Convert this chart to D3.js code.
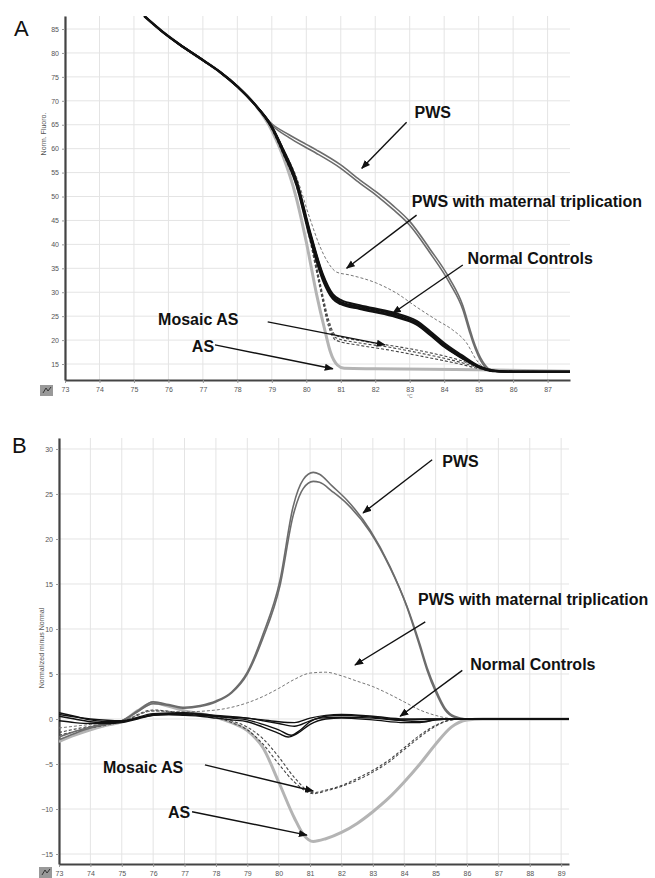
<!DOCTYPE html>
<html>
<head>
<meta charset="utf-8">
<script src="https://cdn.jsdelivr.net/npm/d3@7"></script>
<style>
  body { margin: 0; background: #fff; }
  text { font-family: "Liberation Sans", Arial, sans-serif; }
</style>
</head>
<body>
<div id="chart"></div>
<script>
// ---------- data: panel A (normalized fluorescence vs temperature) ----------
const ticksAx = d3.range(73, 88);
const ticksAy = d3.range(15, 90, 5);
const topA = [[75.3,87.7],[75.8,84.6],[76.3,81.9],[77,78.5],[77.5,76],[78,73],[78.5,69.3]];
const normalA = [
  [[79,64.5],[79.32,59.7],[79.72,52.8],[80.1,42.3],[80.48,33.2],[80.77,29.2],[81,28.0],[81.55,27.0],[82.5,25.5],[83.2,23.7],[83.6,21.4],[84,19.0],[84.5,16.6],[85,14.5],[85.4,13.6],[86,13.4],[87.7,13.4]],
  [[79,64.3],[79.32,59.3],[79.72,52.2],[80.1,41.5],[80.48,32.5],[80.77,28.6],[81,27.5],[81.55,26.5],[82.5,25.0],[83.2,23.2],[83.6,21.0],[84,18.6],[84.5,16.3],[85,14.3],[85.4,13.5],[86,13.4],[87.7,13.4]],
  [[79,64.7],[79.32,60.0],[79.72,53.3],[80.1,42.9],[80.48,33.8],[80.77,29.6],[81,28.4],[81.55,27.3],[82.5,25.8],[83.2,24.0],[83.6,21.8],[84,19.4],[84.5,16.9],[85,14.6],[85.4,13.7],[86,13.4],[87.7,13.4]],
  [[79,64.6],[79.32,59.9],[79.72,53.0],[80.1,42.6],[80.48,33.5],[80.77,29.0],[81,27.8],[81.55,26.7],[82.5,25.2],[83.2,23.4],[83.6,21.2],[84,18.8],[84.5,16.4],[85,14.4],[85.4,13.6],[86,13.4],[87.7,13.4]]
];
const pwsA = [
  [[79,65.2],[79.5,62.9],[80,60.9],[80.3,59.7],[81,56.6],[81.55,53.5],[82.04,50.9],[82.5,48.2],[83,44.8],[83.58,39.1],[84.16,32.8],[84.54,27.2],[84.74,22.4],[84.83,20.3],[85.12,15.5],[85.32,13.9],[85.6,13.4],[87.7,13.4]],
  [[79,64.9],[79.5,62.3],[80,60.2],[80.3,59.0],[81,55.9],[81.55,52.8],[82.04,50.2],[82.5,47.4],[83,44.0],[83.58,38.3],[84.16,31.9],[84.54,26.4],[84.74,21.6],[84.83,19.6],[85.12,15.0],[85.32,13.7],[85.6,13.4],[87.7,13.4]]
];
const tripA = [[79,64.8],[79.32,60.2],[79.72,54.0],[80.1,45.5],[80.4,39.5],[80.59,36.7],[80.88,34.2],[81.26,33.6],[82.04,31.9],[82.62,29.8],[83.2,26.9],[83.78,24.2],[84.25,22.1],[84.65,19.4],[84.94,15.8],[85.12,14.4],[85.4,13.6],[87.7,13.4]];
const mosaicA = [
  [[79,64.2],[79.32,59.2],[79.72,52.4],[80.1,41.6],[80.4,31.5],[80.65,23.5],[80.85,20.5],[81.55,19.4],[82.33,18.6],[83.29,17.3],[84.45,15.4],[85.03,14.2],[85.4,13.6],[87.7,13.4]],
  [[79,64.1],[79.32,59.0],[79.72,52.0],[80.1,41.0],[80.4,30.8],[80.65,22.8],[80.85,20.0],[81.55,18.9],[82.33,18.0],[83.29,16.7],[84.45,15.0],[85.03,14.0],[85.4,13.5],[87.7,13.4]],
  [[79,64.3],[79.32,59.4],[79.72,52.7],[80.1,42.0],[80.4,32.0],[80.65,24.2],[80.85,21.0],[81.55,19.9],[82.33,19.0],[83.29,17.8],[84.45,15.8],[85.03,14.4],[85.4,13.6],[87.7,13.4]]
];
const asA = [[79,63.8],[79.32,58.5],[79.7,50],[80.0,40.5],[80.3,29.5],[80.54,22],[80.7,17.5],[80.9,14.8],[81.1,14.1],[82,14.0],[85,13.8],[87.7,13.5]];

// ---------- data: panel B (difference plot) ----------
const ticksBx = d3.range(73, 90);
const ticksBy = d3.range(-15, 35, 5);
const pwsB = [
  [[73,-2.0],[73.5,-1.4],[74,-0.9],[74.5,-0.5],[75,-0.2],[75.5,0.9],[76,1.9],[76.5,1.6],[77,1.3],[77.5,1.5],[78,2.0],[78.5,3.0],[79,5.2],[79.5,9.4],[80.04,15.4],[80.46,23.6],[80.78,26.6],[81.1,27.4],[81.3,27.2],[81.7,25.9],[82.18,24.3],[82.91,21.0],[83.55,16.9],[84.09,12.4],[84.5,8.0],[84.73,5.4],[85,3.0],[85.3,1.0],[85.6,0.2],[86,0],[89.25,0]],
  [[73,-2.3],[73.5,-1.6],[74,-1.0],[74.5,-0.6],[75,-0.2],[75.5,0.8],[76,1.7],[76.5,1.5],[77,1.2],[77.5,1.4],[78,1.9],[78.5,2.9],[79,5.0],[79.5,9.0],[80.04,14.8],[80.46,22.6],[80.78,25.6],[81.1,26.4],[81.3,26.3],[81.7,25.3],[82.18,23.9],[82.91,20.8],[83.55,16.8],[84.09,12.5],[84.5,8.3],[84.73,5.7],[85,3.3],[85.3,1.2],[85.6,0.3],[86,0],[89.25,0]]
];
const asB = [[73,-2.5],[73.5,-1.8],[74,-1.2],[74.5,-0.7],[75,-0.3],[75.5,0.9],[76,1.8],[76.5,1.4],[77,0.9],[77.5,0.6],[78,0.2],[78.5,-0.4],[79,-1.3],[79.5,-3.2],[80,-7.0],[80.5,-11.0],[80.8,-12.9],[81.1,-13.6],[81.5,-13.3],[82,-12.6],[82.5,-11.6],[83,-10.3],[83.5,-8.8],[84,-7.0],[84.5,-5.0],[85,-2.8],[85.5,-0.9],[86,-0.1],[86.5,0],[89.25,0]];
const mosaicB = [
  [[73,-1.5],[74,-0.8],[75,-0.3],[76,0.9],[77,0.7],[78,0.3],[78.5,-0.2],[79,-0.9],[79.5,-2.2],[80,-4.2],[80.5,-6.5],[81.1,-8.2],[81.5,-7.9],[82,-7.4],[82.5,-6.6],[83,-5.7],[83.5,-4.6],[84,-3.2],[84.5,-1.8],[85,-0.7],[85.5,-0.1],[86,0],[89.25,0]],
  [[73,-1.8],[74,-1.0],[75,-0.3],[76,1.0],[77,0.6],[78,0.2],[78.5,-0.4],[79,-1.2],[79.5,-2.8],[80,-5.0],[80.5,-7.0],[81.1,-8.3],[81.5,-8.0],[82,-7.5],[82.5,-6.8],[83,-5.9],[83.5,-4.8],[84,-3.4],[84.5,-2.0],[85,-0.8],[85.5,-0.1],[86,0],[89.25,0]]
];
const tripB = [[73,-1.0],[74,-0.6],[75,-0.2],[76,0.9],[77,0.8],[78,1.0],[78.5,1.3],[79,1.8],[79.5,2.5],[80,3.4],[80.5,4.4],[81,5.1],[81.5,5.2],[82,4.8],[82.5,4.2],[83,3.6],[83.5,2.8],[84,1.9],[84.5,1.0],[85,0.4],[85.5,0.05],[86,0],[89.25,0]];
const normalB = [
  [[73,0.7],[73.5,0.3],[74,-0.1],[74.5,-0.3],[75,-0.3],[75.5,0.1],[76,0.5],[76.5,0.6],[77,0.6],[77.5,0.5],[78,0.3],[78.5,0.1],[79,-0.1],[79.5,-0.6],[80,-1.2],[80.4,-1.8],[80.7,-1.2],[81,-0.3],[81.3,0.1],[82,0.2],[83,0.1],[84,-0.2],[84.5,-0.3],[85,-0.1],[85.5,0],[89.25,0]],
  [[73,0.3],[73.5,0],[74,-0.3],[74.5,-0.4],[75,-0.3],[75.5,0.1],[76,0.4],[76.5,0.5],[77,0.5],[77.5,0.4],[78,0.3],[78.5,0.2],[79,0.1],[79.5,-0.2],[80,-0.5],[80.5,-0.8],[81,-0.2],[81.5,0.3],[82,0.4],[83,0.2],[84,-0.1],[85,0],[89.25,0]],
  [[73,-0.2],[73.5,-0.4],[74,-0.5],[74.5,-0.5],[75,-0.4],[75.5,0],[76,0.4],[76.5,0.5],[77,0.4],[77.5,0.3],[78,0.1],[78.5,-0.1],[79,-0.3],[79.5,-0.9],[80,-1.6],[80.3,-2.0],[80.6,-1.6],[81,-0.6],[81.5,0],[82,0.1],[83,-0.1],[84,-0.4],[84.5,-0.4],[85,-0.1],[85.5,0],[89.25,0]],
  [[73,0.5],[74,0],[75,-0.2],[76,0.6],[77,0.7],[78,0.4],[79,0.1],[79.5,-0.1],[80,-0.3],[80.5,-0.4],[81,0.1],[81.5,0.4],[82,0.5],[83,0.3],[84,0],[85,0],[89.25,0]]
];

// annotation labels: [text, textX, textY, arrowFromX, arrowFromY, arrowToX, arrowToY] in data units
const notesA = [
  ['PWS', 83.14, 66.4, 82.91, 65.5, 81.61, 55.9],
  ['PWS with maternal triplication', 83.06, 47.8, 83.2, 46.1, 81.17, 35.0],
  ['Normal Controls', 84.68, 35.9, 84.54, 35.7, 82.51, 25.6],
  ['Mosaic AS', 75.7, 23.1, 78.88, 23.8, 82.28, 19.0],
  ['AS', 76.68, 17.5, 77.35, 19.0, 80.77, 14.0]
];
const notesB = [
  ['PWS', 85.21, 28.0, 84.89, 28.8, 82.69, 22.9],
  ['PWS with maternal triplication', 84.44, 12.7, 84.67, 10.8, 82.43, 6.0],
  ['Normal Controls', 86.1, 5.4, 85.85, 5.4, 83.87, 0.3],
  ['Mosaic AS', 74.4, -6.0, 77.65, -5.1, 81.1, -8.0],
  ['AS', 76.47, -11.0, 77.24, -10.3, 80.9, -12.9]
];

const W = 655, H = 878;
const svg = d3.select('#chart').append('svg')
    .attr('width', W).attr('height', H)
    .style('background', '#fff');

const defs = svg.append('defs');
defs.append('marker')
    .attr('id', 'head')
    .attr('viewBox', '0 0 10 10')
    .attr('refX', 9).attr('refY', 5)
    .attr('markerWidth', 9).attr('markerHeight', 9)
    .attr('markerUnits', 'userSpaceOnUse')
    .attr('orient', 'auto')
  .append('path')
    .attr('d', 'M0,1 L10,5 L0,9 Z')
    .attr('fill', '#111');

function panel(cfg) {
  const x = d3.scaleLinear().domain(cfg.xDomain).range(cfg.xRange);
  const y = d3.scaleLinear().domain(cfg.yDomain).range(cfg.yRange);
  const g = svg.append('g');

  defs.append('clipPath').attr('id', cfg.id)
    .append('rect')
      .attr('x', cfg.xRange[0]).attr('y', cfg.yRange[1])
      .attr('width', cfg.xRange[1] - cfg.xRange[0])
      .attr('height', cfg.yRange[0] - cfg.yRange[1]);

  // grid
  g.append('g').selectAll('line').data(cfg.xTicks).join('line')
      .attr('x1', d => x(d)).attr('x2', d => x(d))
      .attr('y1', cfg.yRange[0]).attr('y2', cfg.yRange[1])
      .attr('stroke', '#e4e4e4').attr('stroke-width', 1);
  g.append('g').selectAll('line').data(cfg.yTicks).join('line')
      .attr('x1', cfg.xRange[0]).attr('x2', cfg.xRange[1])
      .attr('y1', d => y(d)).attr('y2', d => y(d))
      .attr('stroke', '#e4e4e4').attr('stroke-width', 1);

  // axes
  const ax = g.append('g')
      .attr('transform', `translate(0,${cfg.yRange[0]})`)
      .call(d3.axisBottom(x).tickValues(cfg.xTicks).tickSize(3).tickSizeOuter(0).tickPadding(4));
  const ay = g.append('g')
      .attr('transform', `translate(${cfg.xRange[0]},0)`)
      .call(d3.axisLeft(y).tickValues(cfg.yTicks).tickSize(3).tickSizeOuter(0).tickPadding(3));
  [ax, ay].forEach(a => {
    a.select('.domain').attr('stroke', '#444').attr('stroke-width', 2.2);
    a.selectAll('.tick line').attr('stroke', '#999');
    a.selectAll('.tick text').attr('fill', '#555').style('font-size', '7px');
  });

  const line = d3.line().x(d => x(d[0])).y(d => y(d[1])).curve(d3.curveMonotoneX);
  const plot = g.append('g').attr('clip-path', `url(#${cfg.id})`);
  cfg.series.forEach(s => {
    plot.append('g').selectAll('path').data(s.data).join('path')
        .attr('d', line)
        .attr('fill', 'none')
        .attr('stroke', s.color)
        .attr('stroke-width', s.width)
        .attr('stroke-dasharray', s.dash || null)
        .attr('stroke-linejoin', 'round');
  });

  // annotations
  const notes = g.append('g');
  notes.selectAll('text').data(cfg.notes).join('text')
      .attr('x', d => x(d[1])).attr('y', d => y(d[2]))
      .attr('fill', '#111')
      .style('font-size', '16px').style('font-weight', 'bold')
      .text(d => d[0]);
  notes.selectAll('line').data(cfg.notes).join('line')
      .attr('x1', d => x(d[3])).attr('y1', d => y(d[4]))
      .attr('x2', d => x(d[5])).attr('y2', d => y(d[6]))
      .attr('stroke', '#111').attr('stroke-width', 1.4)
      .attr('marker-end', 'url(#head)');

  // panel letter, axis title, toolbar icon
  g.append('text').attr('x', cfg.letterPos[0]).attr('y', cfg.letterPos[1])
      .style('font-size', '22px').attr('fill', '#111').text(cfg.letter);
  g.append('text')
      .attr('transform', `translate(${cfg.titlePos[0]},${cfg.titlePos[1]}) rotate(-90)`)
      .attr('text-anchor', 'middle').style('font-size', '7px').attr('fill', '#555')
      .text(cfg.title);
  g.append('rect').attr('x', cfg.iconPos[0]).attr('y', cfg.iconPos[1])
      .attr('width', 13).attr('height', 11).attr('fill', '#999');
  g.append('path')
      .attr('d', `M${cfg.iconPos[0] + 3},${cfg.iconPos[1] + 8} l3,-5 l2,3 l3,-4`)
      .attr('stroke', '#333').attr('fill', 'none').attr('stroke-width', 1);
  return {x, y, g};
}

const pA = panel({
  id: 'clipA', letter: 'A', letterPos: [14, 36], title: 'Norm. Fluoro.', titlePos: [46, 134],
  iconPos: [40, 385],
  xDomain: [73, 87.65], xRange: [65, 570],
  yDomain: [11.66, 87.72], yRange: [380, 16],
  xTicks: ticksAx, yTicks: ticksAy,
  series: [
    {data: [topA.concat(asA)], color: '#b4b4b4', width: 3},
    {data: mosaicA.map(d => topA.concat(d)), color: '#444', width: 1.1, dash: '3,2'},
    {data: [topA.concat(tripA)], color: '#777', width: 1, dash: '3,2'},
    {data: pwsA.map(d => topA.concat(d)), color: '#6c6c6c', width: 1.6},
    {data: normalA.map(d => topA.concat(d)), color: '#111', width: 2}
  ],
  notes: notesA
});
pA.g.append('text').attr('x', pA.x(83)).attr('y', 398)
    .attr('text-anchor', 'middle').style('font-size', '5px').attr('fill', '#777').text('°C');

panel({
  id: 'clipB', letter: 'B', letterPos: [12, 453], title: 'Normalized minus Normal', titlePos: [44, 648],
  iconPos: [39, 867],
  xDomain: [73, 89.25], xRange: [59, 569],
  yDomain: [-16.11, 31.22], yRange: [864, 438],
  xTicks: ticksBx, yTicks: ticksBy,
  series: [
    {data: [asB], color: '#b4b4b4', width: 3},
    {data: mosaicB, color: '#444', width: 1.1, dash: '3,2'},
    {data: [tripB], color: '#777', width: 1, dash: '3,2'},
    {data: pwsB, color: '#6c6c6c', width: 1.6},
    {data: normalB, color: '#111', width: 1.4}
  ],
  notes: notesB
});
</script>
</body>
</html>
